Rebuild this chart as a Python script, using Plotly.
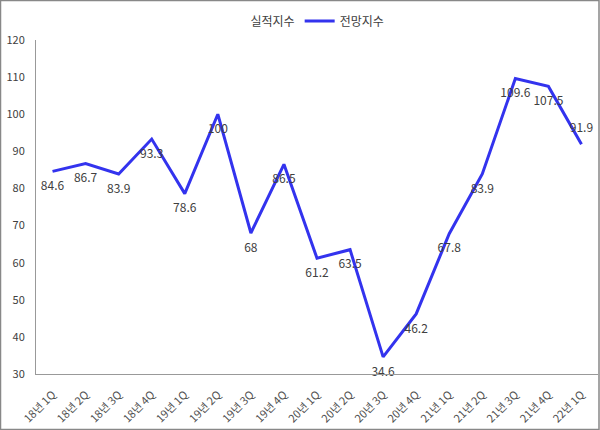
import plotly.graph_objects as go

categories = ["18년 1Q", "18년 2Q", "18년 3Q", "18년 4Q", "19년 1Q", "19년 2Q", "19년 3Q", "19년 4Q",
              "20년 1Q", "20년 2Q", "20년 3Q", "20년 4Q", "21년 1Q", "21년 2Q", "21년 3Q", "21년 4Q", "22년 1Q"]
forecast = [84.6, 86.7, 83.9, 93.3, 78.6, 100, 68, 86.5, 61.2, 63.5, 34.6, 46.2, 67.8, 83.9, 109.6, 107.5, 91.9]
actual = [None] * len(categories)
label_pos = ["bottom center"] * (len(categories) - 1) + ["top center"]

FONT = "Noto Sans CJK KR"
TXT = "#404040"

fig = go.Figure()
fig.add_trace(go.Scatter(
    x=categories, y=actual, name="실적지수", mode="lines",
    line=dict(color="rgba(0,0,0,0)", width=3),
))
fig.add_trace(go.Scatter(
    x=categories, y=forecast, name="전망지수", mode="lines+markers+text",
    line=dict(color="#3333EE", width=3),
    marker=dict(size=14, color="rgba(0,0,0,0)"),
    text=[f"{v:g}" for v in forecast], textposition=label_pos,
    textfont=dict(family=FONT, size=12, color=TXT),
    cliponaxis=False,
))

W, H = 600, 430
L, R, T, B = 36, 2, 40, 56
pw, ph = W - L - R, H - T - B

def px(x):
    return (x - L) / pw

def py(y):
    return (H - B - y) / ph

fig.update_layout(
    width=W, height=H,
    margin=dict(l=L, r=R, t=T, b=B, autoexpand=False),
    paper_bgcolor="white", plot_bgcolor="white",
    font=dict(family=FONT, size=11, color=TXT),
    showlegend=True,
    legend=dict(orientation="h", x=px(300), xanchor="center", y=py(21), yanchor="middle",
                font=dict(family=FONT, size=12, color=TXT), itemwidth=30,
                bgcolor="rgba(0,0,0,0)"),
    xaxis=dict(type="category", showgrid=False, showline=True, linecolor="#999999", linewidth=1,
               ticks="", tickangle=-45, tickfont=dict(family=FONT, size=11, color="#505050"),
               ticklabelstandoff=9,
               range=[-0.5, len(categories) - 0.5], fixedrange=True, automargin=False),
    yaxis=dict(range=[30, 120], dtick=10, showgrid=False, zeroline=False, showline=True,
               linecolor="#999999", linewidth=1, ticks="", tickfont=dict(family=FONT, size=11, color=TXT),
               ticklabelstandoff=8, fixedrange=True, automargin=False),
    shapes=[dict(type="rect", xref="paper", yref="paper",
                 x0=px(0.5), x1=px(599), y0=py(429.5), y1=py(0.5),
                 line=dict(color="#888888", width=1.5), fillcolor="rgba(0,0,0,0)", layer="above")],
)

fig.write_html("out.html", config={"displayModeBar": False},
               post_script="document.body.style.margin='0';document.body.style.padding='0';")
